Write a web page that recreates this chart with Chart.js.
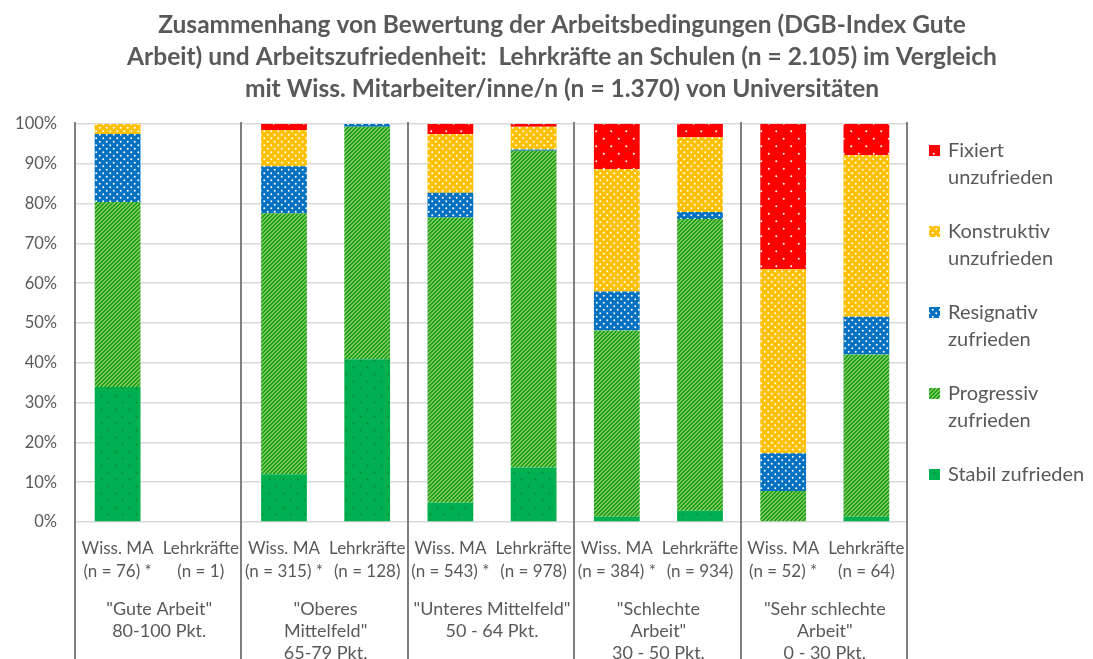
<!DOCTYPE html>
<html lang="de">
<head>
    <meta charset="UTF-8">
    <title>Arbeitszufriedenheit</title>
    <script src="https://cdn.jsdelivr.net/npm/chart.js"></script>
    <style>
        body { margin: 0; background: #fff; }
        #wrap { width: 1093px; height: 659px; }
    </style>
</head>
<body>
<div id="wrap"><canvas id="chart"></canvas></div>
<script>
// Kategorien (x-Achse) und Gruppen
const categories = [
    ['Wiss. MA', '(n = 76) *'], ['Lehrkräfte', '(n = 1)'],
    ['Wiss. MA', '(n = 315) *'], ['Lehrkräfte', '(n = 128)'],
    ['Wiss. MA', '(n = 543) *'], ['Lehrkräfte', '(n = 978)'],
    ['Wiss. MA', '(n = 384) *'], ['Lehrkräfte', '(n = 934)'],
    ['Wiss. MA', '(n = 52) *'], ['Lehrkräfte', '(n = 64)']
];
const groups = [
    ['"Gute Arbeit"', '80-100 Pkt.'],
    ['"Oberes', 'Mittelfeld"', '65-79 Pkt.'],
    ['"Unteres Mittelfeld"', '50 - 64 Pkt.'],
    ['"Schlechte', 'Arbeit"', '30 - 50 Pkt.'],
    ['"Sehr schlechte', 'Arbeit"', '0 - 30 Pkt.']
];
const yTicks = [0, 10, 20, 30, 40, 50, 60, 70, 80, 90, 100];
const titleLines = [
    'Zusammenhang von Bewertung der Arbeitsbedingungen (DGB-Index Gute',
    'Arbeit) und Arbeitszufriedenheit:  Lehrkräfte an Schulen (n = 2.105) im Vergleich',
    'mit Wiss. Mitarbeiter/inne/n (n = 1.370) von Universitäten'
];

// Anteile in %
const stabil      = [33.9, 0, 12.0, 40.9,  4.9, 13.7,  1.3,  2.8,  0.0,  1.3];
const progressiv  = [46.5, 0, 65.6, 58.4, 71.6, 79.6, 46.8, 73.3,  7.8, 40.8];
const resignativ  = [17.1, 0, 11.8,  0.7,  6.2,  0.3,  9.8,  1.8,  9.5,  9.5];
const konstruktiv = [ 2.5, 0,  9.1,  0.0, 14.8,  5.7, 30.8, 18.8, 46.2, 40.6];
const fixiert     = [ 0.0, 0,  1.5,  0.0,  2.5,  0.7, 11.3,  3.3, 36.5,  7.8];

const textColor = '#595959';
const fontFamily = 'Lato, "Open Sans", sans-serif';

// Muster
function dotPattern(bg, dot, size, r) {
    const c = document.createElement('canvas');
    c.width = size; c.height = size;
    const g = c.getContext('2d');
    g.fillStyle = bg;
    g.fillRect(0, 0, size, size);
    g.fillStyle = dot;
    g.beginPath();
    g.arc(size / 4, size / 4, r, 0, Math.PI * 2);
    g.arc(size * 3 / 4, size * 3 / 4, r, 0, Math.PI * 2);
    g.fill();
    return g.createPattern(c, 'repeat');
}

// schräge Streifen, pixelgenau
function stripePattern(bg, stripe) {
    const s = 4;
    const c = document.createElement('canvas');
    c.width = s; c.height = s;
    const g = c.getContext('2d');
    for (let y = 0; y < s; y++) {
        for (let x = 0; x < s; x++) {
            g.fillStyle = ((x + y) % 4 < 2) ? stripe : bg;
            g.fillRect(x, y, 1, 1);
        }
    }
    return g.createPattern(c, 'repeat');
}

const fills = {
    stabil: dotPattern('#00b050', '#0a8a38', 14, 1),
    progressiv: stripePattern('#1a9e2c', '#7ec94c'),
    resignativ: dotPattern('#0070c0', '#ffffff', 7, 1),
    konstruktiv: dotPattern('#ffc000', '#ffffff', 7, 1),
    fixiert: dotPattern('#ff0000', '#ffffff', 15, 1)
};

const datasets = [
    { label: 'Stabil zufrieden', data: stabil, backgroundColor: fills.stabil, legendText: ['Stabil zufrieden'] },
    { label: 'Progressiv zufrieden', data: progressiv, backgroundColor: fills.progressiv, legendText: ['Progressiv', 'zufrieden'] },
    { label: 'Resignativ zufrieden', data: resignativ, backgroundColor: fills.resignativ, legendText: ['Resignativ', 'zufrieden'] },
    { label: 'Konstruktiv unzufrieden', data: konstruktiv, backgroundColor: fills.konstruktiv, legendText: ['Konstruktiv', 'unzufrieden'] },
    { label: 'Fixiert unzufrieden', data: fixiert, backgroundColor: fills.fixiert, legendText: ['Fixiert', 'unzufrieden'] }
];

// Titel, Gruppenbeschriftung, Trennlinien und Legende
const extras = {
    id: 'extras',
    afterDraw(chart) {
        const ctx = chart.ctx;
        const x = chart.scales.x;
        const area = chart.chartArea;
        const step = x.getPixelForValue(1) - x.getPixelForValue(0);
        ctx.save();

        // Titel
        ctx.fillStyle = textColor;
        ctx.font = 'bold 24.5px ' + fontFamily;
        ctx.textAlign = 'center';
        ctx.textBaseline = 'middle';
        titleLines.forEach((t, i) => ctx.fillText(t, 562, 25 + i * 32));

        // Trennlinien
        ctx.strokeStyle = '#7f7f7f';
        ctx.lineWidth = 2;
        for (let i = 0; i <= categories.length; i += 2) {
            const px = Math.round(x.getPixelForValue(i) - step / 2) - 1;
            ctx.beginPath();
            ctx.moveTo(px, area.top - 2);
            ctx.lineTo(px, chart.height);
            ctx.stroke();
        }

        // Gruppen
        ctx.font = '18px ' + fontFamily;
        groups.forEach((lines, gi) => {
            const cx = (x.getPixelForValue(gi * 2) + x.getPixelForValue(gi * 2 + 1)) / 2;
            lines.forEach((t, li) => ctx.fillText(t, cx, area.bottom + 87 + li * 22));
        });

        // Legende
        const lx = 929;
        let ly = 151;
        ctx.textAlign = 'left';
        ctx.font = '20px ' + fontFamily;
        for (let d = datasets.length - 1; d >= 0; d--) {
            const ds = datasets[d];
            ctx.fillStyle = ds.backgroundColor;
            ctx.fillRect(lx, ly - 6, 11, 11);
            ctx.fillStyle = textColor;
            ds.legendText.forEach((t, li) => ctx.fillText(t, lx + 19, ly + li * 27));
            ly += 81;
        }
        ctx.restore();
    }
};

new Chart(document.getElementById('chart'), {
    type: 'bar',
    data: { labels: categories, datasets: datasets },
    plugins: [extras],
    options: {
        responsive: true,
        maintainAspectRatio: false,
        animation: false,
        layout: { padding: { left: 0, right: 185, top: 124, bottom: 0 } },
        datasets: {
            bar: { categoryPercentage: 1, barPercentage: 0.55, borderWidth: 0 }
        },
        plugins: {
            legend: { display: false },
            tooltip: { enabled: false },
            title: { display: false }
        },
        scales: {
            x: {
                stacked: true,
                grid: { display: false },
                border: { display: false },
                ticks: {
                    color: textColor,
                    font: { family: fontFamily, size: 17, lineHeight: 1.36 },
                    padding: 7,
                    maxRotation: 0,
                    autoSkip: false
                },
                afterFit(s) { s.height = 137; }
            },
            y: {
                stacked: true,
                min: 0,
                max: 100,
                grid: { color: '#d9d9d9', lineWidth: 1.5, drawTicks: false },
                border: { display: false },
                afterBuildTicks(s) { s.ticks = yTicks.map(v => ({ value: v })); },
                ticks: {
                    color: textColor,
                    font: { family: fontFamily, size: 16.5 },
                    padding: 19,
                    callback: v => v + '%'
                },
                afterFit(s) { s.width = 76; }
            }
        }
    }
});
</script>
</body>
</html>
